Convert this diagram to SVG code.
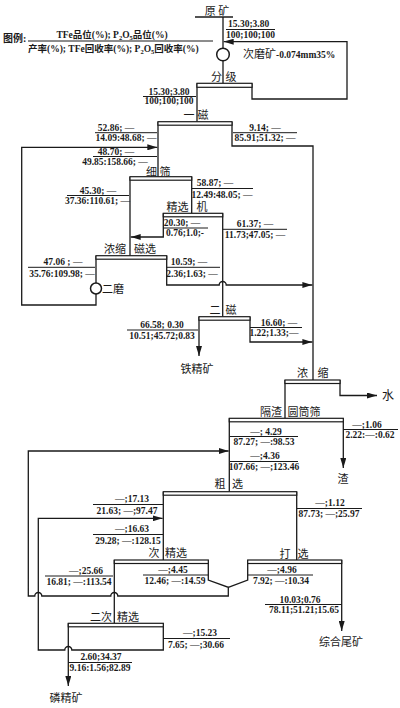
<svg xmlns="http://www.w3.org/2000/svg" width="400" height="708" viewBox="0 0 400 708">
<style>
text{font-family:"Liberation Serif","Noto Sans CJK SC",serif;fill:#1a1a1a}
.n{font-size:9.5px;font-weight:bold}
.c{font-size:11px}
.m{text-anchor:middle}
.w{stroke:#1a1a1a;stroke-width:1.3;fill:none}
.s{stroke:#1a1a1a;stroke-width:1;fill:none}
.bar{stroke:#1a1a1a;stroke-width:1.2;fill:#fff}
.mill{stroke:#1a1a1a;stroke-width:1.5;fill:#fff}
.a{marker-end:url(#ah)}
</style>
<defs>
<marker id="ah" markerWidth="10" markerHeight="6" refX="10" refY="3" orient="auto" markerUnits="userSpaceOnUse"><path d="M0,0 L10,3 L0,6 Z" fill="#1a1a1a"/></marker>
</defs>

<g id="connectors">
<path class="w" d="M223,17 V48"/>
<path class="w" d="M223,61 V83.3"/>
<path class="w" d="M197,83.3 V121.7"/>
<path class="w a" d="M252,83.3 V99 H347 V41.7 H223.7"/>
<path class="w" d="M158,121.7 V176.7"/>
<path class="w" d="M232,121.7 V146 H313 V380"/>
<path class="w" d="M130,176.7 V255.7"/>
<path class="w" d="M191.7,176.7 V213.3"/>
<path class="w a" d="M163.3,213.3 V237 H130.7"/>
<path class="w" d="M222.7,213.3 V316.7"/>
<path class="w a" d="M166.7,255.7 V285 H219.2 A3.5,3.5 0 0 1 226.2,285 H312.4"/>
<path class="w" d="M96,255.7 V283"/>
<path class="w a" d="M96,294 V305 H21.7 V147.3 H157.3"/>
<path class="w a" d="M199,316.7 V356"/>
<path class="w a" d="M250,316.7 V342 H312.4"/>
<path class="w a" d="M340,380 V395.5 H377"/>
<path class="w" d="M285,380 V418.3"/>
<path class="w a" d="M343.3,418.3 V468"/>
<path class="w" d="M229.3,418.3 V491.7"/>
<path class="w" d="M163.3,491.7 V560"/>
<path class="w" d="M296.7,491.7 V560"/>
<path class="w a" d="M208.3,560 V580 L228.3,587.3 V596 H117.8 A3.5,3.5 0 0 0 110.8,596 H41.8 A3.5,3.5 0 0 0 34.8,596 H28.3 V451 H228.6"/>
<path class="w" d="M247.7,560 V580 L228.3,587.3"/>
<path class="w a" d="M341.7,560 V631"/>
<path class="w" d="M114.3,560 V623.3"/>
<path class="w a" d="M163.3,623.3 V650 H71.8 A3.5,3.5 0 0 0 64.8,650 H38.3 V518.3 H162.6"/>
<path class="w a" d="M68.3,623.3 V686"/>

<g id="stream-labels">
<text class="n" x="228" y="27">15.30;3.80</text>
<path class="s" d="M226,29.5 H275"/>
<text class="n" x="226" y="37.5">100;100;100</text>

<text class="n m" x="169" y="94.5">15.30;3.80</text>
<path class="s" d="M143,96.5 H196"/>
<text class="n m" x="169" y="104">100;100;100</text>

<text class="n m" x="116" y="130.5">52.86; —</text>
<path class="s" d="M95,132.7 H157"/>
<text class="n m" x="126" y="141">14.09:48.68; —</text>

<text class="n m" x="265" y="130.5">9.14; —</text>
<path class="s" d="M233,132.7 H297"/>
<text class="n m" x="265" y="141">85.91;51.32; —</text>

<text class="n m" x="116" y="154.5">48.70; —</text>
<path class="s" d="M93,156.5 H157"/>
<text class="n m" x="115" y="164.5">49.85:158.66; —</text>

<text class="n m" x="98" y="193.5">45.30; —</text>
<path class="s" d="M67,195.5 H129"/>
<text class="n m" x="97.5" y="203.5">37.36:110.61; —</text>

<text class="n m" x="215" y="185.5">58.87; —</text>
<path class="s" d="M192,188.5 H253"/>
<text class="n m" x="222" y="197.5">12.49:48.05; —</text>

<text class="n m" x="182" y="225.5">20.30; —</text>
<path class="s" d="M163,228 H208"/>
<text class="n m" x="185" y="235.5">0.76;1.0;-</text>

<text class="n m" x="255" y="227">61.37; —</text>
<path class="s" d="M223,229.3 H287"/>
<text class="n m" x="255" y="237.5">11.73;47.05; —</text>

<text class="n m" x="63" y="265">47.06 ; —</text>
<path class="s" d="M28,267.3 H95"/>
<text class="n m" x="62" y="277">35.76:109.98; —</text>

<text class="n m" x="189" y="265">10.59; —</text>
<path class="s" d="M167,267.3 H220"/>
<text class="n m" x="192" y="277">2.36;1.63; —</text>

<text class="n m" x="162" y="328">66.58; 0.30</text>
<path class="s" d="M127,330 H198"/>
<text class="n m" x="162" y="338.5">10.51;45.72;0.83</text>

<text class="n m" x="279" y="325.5">16.60; —</text>
<path class="s" d="M250,327.5 H302"/>
<text class="n m" x="274" y="335.5">1.22;1.33;—</text>

<text class="n m" x="367" y="427.5">—;1.06</text>
<path class="s" d="M343,429.5 H398"/>
<text class="n m" x="370" y="438">2.22:—:0.62</text>

<text class="n m" x="266" y="434.5">—; 4.29</text>
<path class="s" d="M230,436.5 H298"/>
<text class="n m" x="264" y="444.5">87.27; —:98.53</text>

<text class="n m" x="265" y="459">—;4.36</text>
<path class="s" d="M230,461.5 H298"/>
<text class="n m" x="264" y="470">107.66; —;123.46</text>

<text class="n m" x="132" y="502">—;17.13</text>
<path class="s" d="M93,504.5 H163"/>
<text class="n m" x="127" y="513.5">21.63; —;97.47</text>

<text class="n m" x="132" y="532">—;16.63</text>
<path class="s" d="M93,534.5 H163"/>
<text class="n m" x="128" y="543.5">29.28; —:128.15</text>

<text class="n m" x="330" y="506">—;1.12</text>
<path class="s" d="M297,508.5 H362"/>
<text class="n m" x="329" y="517">87.73; —;25.97</text>

<text class="n m" x="86" y="574">—;25.66</text>
<path class="s" d="M45,576 H113"/>
<text class="n m" x="79" y="584.5">16.81; —:113.54</text>

<text class="n m" x="173" y="573">—;4.45</text>
<path class="s" d="M143,575 H208"/>
<text class="n m" x="175" y="583.5">12.46; —:14.59</text>

<text class="n m" x="282" y="573">—;4.96</text>
<path class="s" d="M248,575 H313"/>
<text class="n m" x="281" y="583.5">7.92;  —:10.34</text>

<text class="n m" x="300" y="602.5">10.03;0.76</text>
<path class="s" d="M265,604.5 H342"/>
<text class="n m" x="304" y="613">78.11;51.21;15.65</text>

<text class="n m" x="200" y="636">—;15.23</text>
<path class="s" d="M163,638.5 H230"/>
<text class="n m" x="196" y="647.5">7.65; —;30.66</text>

<text class="n m" x="101" y="660">2.60;34.37</text>
<path class="s" d="M68,662.5 H132"/>
<text class="n m" x="100" y="671">9.16:1.56;82.89</text>
</g>
</g>

<g id="legend">
<text style="font-size:10px;font-weight:bold" x="3" y="42">图例:</text>
<text class="m" style="font-size:9.5px;font-weight:bold" x="112" y="38">TFe品位(%); P<tspan font-size="6.5" dy="2">2</tspan><tspan dy="-2">O</tspan><tspan font-size="6.5" dy="2">5</tspan><tspan dy="-2">品位(%)</tspan></text>
<path class="s" d="M28,41 H213"/>
<text style="font-size:9.5px;font-weight:bold" x="28" y="52">产率(%); TFe回收率(%); P<tspan font-size="6.5" dy="2">2</tspan><tspan dy="-2">O</tspan><tspan font-size="6.5" dy="2">5</tspan><tspan dy="-2">回收率(%)</tspan></text>
</g>

<g id="raw-ore">
<text class="c m" x="217" y="15">原 矿</text>
<path class="w" d="M195,17 H233"/>
</g>

<g id="grinding-1">
<circle class="mill" cx="223" cy="54.5" r="6.3"/>
<text x="243" y="58"><tspan class="c">次磨矿</tspan><tspan class="n" font-size="10">-0.074mm35%</tspan></text>
</g>

<g id="classification">
<rect class="bar" x="197" y="83.3" width="55" height="4"/>
<text class="c m" x="216.5" y="81">分</text>
<text class="c m" x="231" y="81">级</text>
</g>

<g id="mag-1">
<rect class="bar" x="158" y="121.7" width="74" height="3.5"/>
<text class="c m" x="189" y="119">一</text>
<text class="c m" x="203" y="119">磁</text>
</g>

<g id="fine-screen">
<rect class="bar" x="130" y="176.7" width="61.7" height="3.5"/>
<text class="c m" x="151.5" y="176">细</text>
<text class="c m" x="165" y="176">筛</text>
</g>

<g id="cleaner-machine">
<rect class="bar" x="163.3" y="213.3" width="59.4" height="3.5"/>
<text class="c m" x="177.5" y="211">精选</text>
<text class="c m" x="202" y="211">机</text>
</g>

<g id="thicken-mag">
<rect class="bar" x="96" y="255.7" width="70.7" height="3.5"/>
<text class="c m" x="115" y="253">浓缩</text>
<text class="c m" x="145" y="253">磁选</text>
</g>

<g id="grinding-2">
<circle class="mill" cx="96" cy="288.5" r="5.5"/>
<text class="c" x="102" y="293">二磨</text>
</g>

<g id="mag-2">
<rect class="bar" x="199" y="316.7" width="51" height="3.5"/>
<text class="c m" x="215" y="314">二</text>
<text class="c m" x="231" y="314">磁</text>
</g>

<g id="iron-conc">
<text class="c m" x="197" y="373">铁精矿</text>
</g>

<g id="thickener">
<rect class="bar" x="285" y="380" width="55" height="3.5"/>
<text class="c m" x="302.5" y="376.5">浓</text>
<text class="c m" x="323" y="376.5">缩</text>
</g>

<g id="water">
<text class="c" style="font-size:12px" x="382" y="400">水</text>
</g>

<g id="trommel">
<rect class="bar" x="229.3" y="418.3" width="114" height="3.5"/>
<text class="c m" x="271" y="415.5">隔渣</text>
<text class="c m" x="304" y="415.5">圆筒筛</text>
</g>

<g id="residue">
<text class="c m" x="343" y="483">渣</text>
</g>

<g id="rougher">
<rect class="bar" x="163.3" y="491.7" width="133.4" height="3.5"/>
<text class="c m" x="220" y="488">粗</text>
<text class="c m" x="237.5" y="488">选</text>
</g>

<g id="cleaner-1">
<rect class="bar" x="114.3" y="560" width="94" height="3.5"/>
<text class="c m" x="154" y="557">次</text>
<text class="c m" x="176" y="557">精选</text>
</g>

<g id="scavenger">
<rect class="bar" x="247.7" y="560" width="94" height="3.5"/>
<text class="c m" x="285" y="557.5">打</text>
<text class="c m" x="303" y="557.5">选</text>
</g>

<g id="tailings">
<text class="c m" x="341" y="646">综合尾矿</text>
</g>

<g id="cleaner-2">
<rect class="bar" x="68.3" y="623.3" width="95" height="3.5"/>
<text class="c m" x="101" y="621">二次</text>
<text class="c m" x="128" y="621">精选</text>
</g>

<g id="phosphate-conc">
<text class="c m" x="66" y="701.5">磷精矿</text>
</g>
</svg>
